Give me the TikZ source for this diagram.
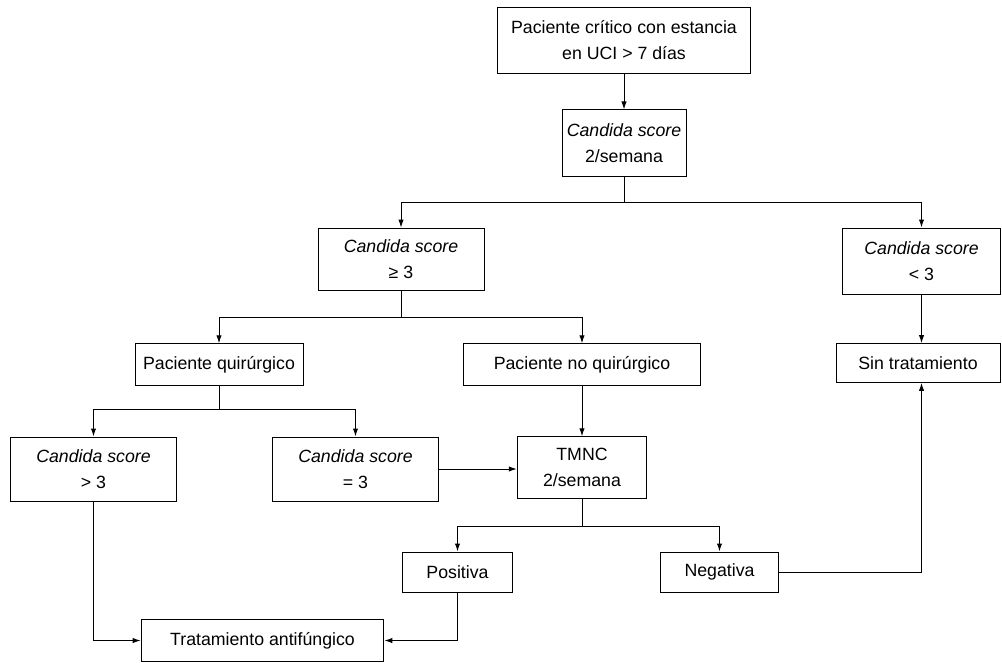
\documentclass[tikz,border=0pt]{standalone}
\usepackage{fontspec}
\setmainfont{Liberation Sans}
\usetikzlibrary{arrows.meta}
\tikzset{
    base/.style={draw, rectangle, line width=0.75pt, inner sep=0pt, align=center, font=\fontsize{13.3}{19.5}\selectfont},
    arrow/.style={-{Latex[length=6pt,width=4pt]}},
    link/.style={line width=0.75pt}
}

\begin{document}
\begin{tikzpicture}[x=0.75pt, y=-0.75pt]
\useasboundingbox (0,0) rectangle (1002,663);
\node[base, minimum width=190pt, minimum height=49pt] (ingreso) at (624,40.5) {Paciente crítico con estancia\\en UCI > 7 días};
\node[base, minimum width=93pt, minimum height=49.5pt] (score) at (624,143) {\textit{Candida score}\\2/semana};
\node[base, minimum width=124.5pt, minimum height=47pt] (mayoroigual) at (401,259.5) {\textit{Candida score}\\≥ 3};
\node[base, minimum width=118pt, minimum height=49.5pt] (menor) at (921.5,261) {\textit{Candida score}\\< 3};
\node[base, minimum width=126pt, minimum height=31pt] (quir) at (219,364.5) {Paciente quirúrgico};
\node[base, minimum width=178pt, minimum height=31pt] (noquir) at (582,364.5) {Paciente no quirúrgico};
\node[base, minimum width=123pt, minimum height=29pt] (sintto) at (918,363) {Sin tratamiento};
\node[base, minimum width=124pt, minimum height=48pt] (mayor) at (93.5,469) {\textit{Candida score}\\> 3};
\node[base, minimum width=124pt, minimum height=48pt] (igual) at (355.5,469) {\textit{Candida score}\\= 3};
\node[base, minimum width=97pt, minimum height=46pt] (tmnc) at (582,467.5) {TMNC\\2/semana};
\node[base, minimum width=82pt, minimum height=30pt] (pos) at (457.5,572) {Positiva};
\node[base, minimum width=88pt, minimum height=30pt] (neg) at (719.5,572) {Negativa};
\node[base, minimum width=182pt, minimum height=31pt] (tto) at (262.5,640.5) {Tratamiento antifúngico};

\coordinate (split1) at (624,202);
\coordinate (split2) at (401,317);
\coordinate (split3) at (219,409);
\coordinate (split4) at (582,526);

\draw[link, arrow] (ingreso) -- (score);
\draw[link] (score) -- (split1);
\draw[link, arrow] (split1) -| (mayoroigual);
\draw[link, arrow] (split1) -| (menor);
\draw[link] (mayoroigual) -- (split2);
\draw[link, arrow] (split2) -| (quir);
\draw[link, arrow] (split2) -| (noquir);
\draw[link, arrow] (menor.south) -- (menor.south |- sintto.north);
\draw[link] (quir) -- (split3);
\draw[link, arrow] (split3) -| (mayor);
\draw[link, arrow] (split3) -| (igual);
\draw[link, arrow] (igual.east) -- (igual.east -| tmnc.west);
\draw[link, arrow] (noquir) -- (tmnc);
\draw[link] (tmnc) -- (split4);
\draw[link, arrow] (split4) -| (pos);
\draw[link, arrow] (split4) -| (neg);
\draw[link, arrow] (mayor.south) |- (tto.west);
\draw[link, arrow] (pos.south) |- (tto.east);
\draw[link, arrow] (neg.east) -| (menor.south |- sintto.south);
\end{tikzpicture}
\end{document}
